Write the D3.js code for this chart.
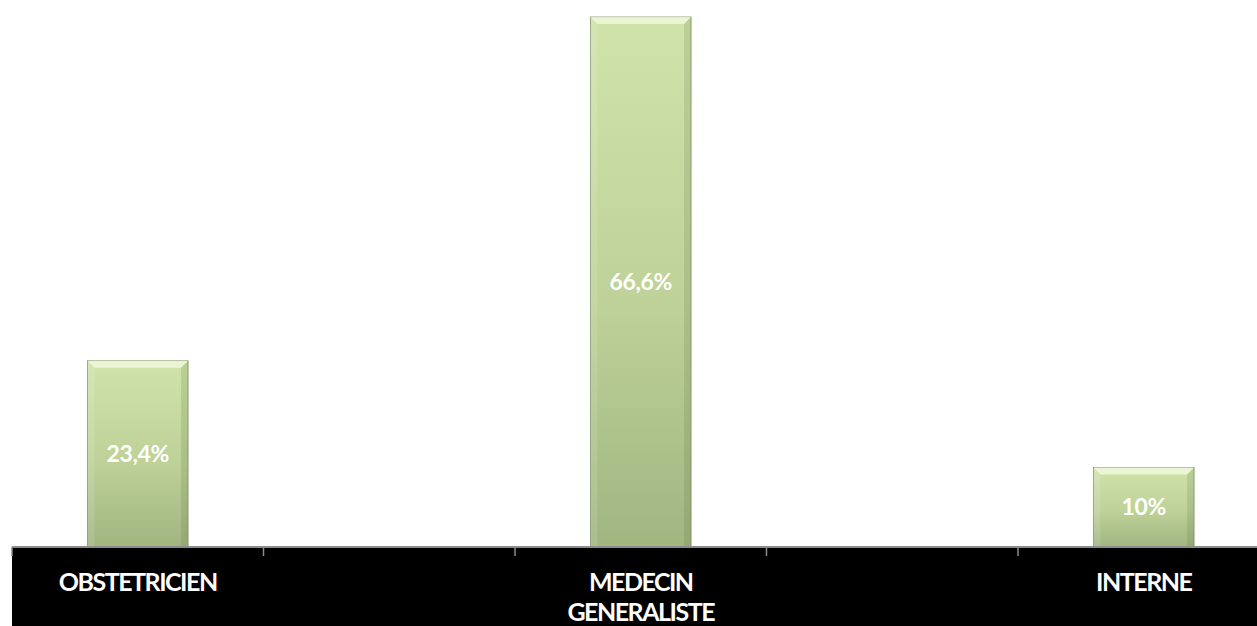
<!DOCTYPE html>
<html>
<head>
<meta charset="utf-8">
<script src="https://cdn.jsdelivr.net/npm/d3@7"></script>
<style>
  html, body { margin: 0; padding: 0; background: #ffffff; }
  svg { display: block; }
  text { font-family: Lato, "Open Sans", sans-serif; font-weight: 700; }
</style>
</head>
<body>
<svg id="chart" width="1257" height="626"></svg>
<script>
// Category slots along the axis (empty slots keep their tick spacing)
const categories = ["OBSTETRICIEN", "", "MEDECIN GENERALISTE", "", "INTERNE"];
const categoryLines = [["OBSTETRICIEN"], [], ["MEDECIN", "GENERALISTE"], [], ["INTERNE"]];
// Share of respondents, in percent
const values = [23.4, null, 66.6, null, 10];

const svg = d3.select("#chart");
const W = 1257, H = 626;
const left = 12, baseY = 547, topY = 17;

const x = d3.scaleBand()
  .domain(d3.range(categories.length))
  .range([left, left + 251.5 * categories.length])
  .padding(0);

const y = d3.scaleLinear()
  .domain([0, 66.6])
  .range([baseY, topY]);

const fr = d3.formatLocale({ decimal: ",", thousands: " ", grouping: [3], currency: ["", " €"] });
const fmt = v => fr.format(".1~f")(v) + "%";

const defs = svg.append("defs");
const grad = defs.append("linearGradient")
  .attr("id", "barGrad")
  .attr("x1", 0).attr("y1", 0).attr("x2", 0).attr("y2", 1);
grad.append("stop").attr("offset", "0%").attr("stop-color", "#d0e4aa");
grad.append("stop").attr("offset", "55%").attr("stop-color", "#bdd198");
grad.append("stop").attr("offset", "100%").attr("stop-color", "#a0b580");

// Black band behind the category labels
svg.append("rect")
  .attr("x", left).attr("y", baseY + 1)
  .attr("width", W - left).attr("height", H - baseY - 1)
  .attr("fill", "#000000");

const barW = x.bandwidth() * 0.4;
const bev = 7;
const data = values.map((v, i) => ({ v, i })).filter(d => d.v != null);

const bars = svg.append("g").selectAll("g").data(data).join("g")
  .attr("transform", d => `translate(${x(d.i) + (x.bandwidth() - barW) / 2},0)`);

bars.append("rect")
  .attr("x", 0).attr("y", d => y(d.v))
  .attr("width", barW).attr("height", d => baseY - y(d.v))
  .attr("fill", "url(#barGrad)")
  .attr("stroke", "#7f9162").attr("stroke-width", 0.8);

// Bevel facets: top highlight, darker sides
bars.append("path")
  .attr("d", d => {
    const t = y(d.v);
    return `M0,${t} L${barW},${t} L${barW - bev},${t + bev} L${bev},${t + bev} Z`;
  })
  .attr("fill", "#f4fbe3").attr("opacity", 0.75);
bars.append("path")
  .attr("d", d => {
    const t = y(d.v);
    return `M0,${t} L${bev},${t + bev} L${bev},${baseY} L0,${baseY} Z`;
  })
  .attr("fill", "#ffffff").attr("opacity", 0.12);
bars.append("path")
  .attr("d", d => {
    const t = y(d.v);
    return `M${barW},${t} L${barW - bev},${t + bev} L${barW - bev},${baseY} L${barW},${baseY} Z`;
  })
  .attr("fill", "#5f7040").attr("opacity", 0.18);

bars.append("text")
  .attr("x", barW / 2)
  .attr("y", d => (y(d.v) + baseY) / 2)
  .attr("dy", "0.36em")
  .attr("text-anchor", "middle")
  .attr("fill", "#ffffff")
  .attr("font-size", 23)
  .attr("letter-spacing", -0.4)
  .text(d => fmt(d.v));

// Category axis: baseline with ticks at slot boundaries
const axis = svg.append("g");
axis.append("line")
  .attr("x1", left).attr("x2", W)
  .attr("y1", baseY).attr("y2", baseY)
  .attr("stroke", "#8c8c8c").attr("stroke-width", 2);
axis.selectAll("line.tick")
  .data(d3.range(categories.length + 1))
  .join("line")
  .attr("class", "tick")
  .attr("x1", i => i < categories.length ? x(i) : x.range()[1])
  .attr("x2", i => i < categories.length ? x(i) : x.range()[1])
  .attr("y1", baseY).attr("y2", baseY + 9)
  .attr("stroke", "#8c8c8c").attr("stroke-width", 1.5);

axis.selectAll("text.cat")
  .data(categoryLines.map((lines, i) => ({ lines, i })))
  .join("text")
  .attr("class", "cat")
  .attr("text-anchor", "middle")
  .attr("fill", "#ffffff")
  .attr("font-size", 25)
  .attr("letter-spacing", -1.5)
  .each(function (d) {
    d3.select(this).selectAll("tspan").data(d.lines).join("tspan")
      .attr("x", x(d.i) + x.bandwidth() / 2)
      .attr("y", (l, k) => 591 + k * 30)
      .text(l => l);
  });
</script>
</body>
</html>
